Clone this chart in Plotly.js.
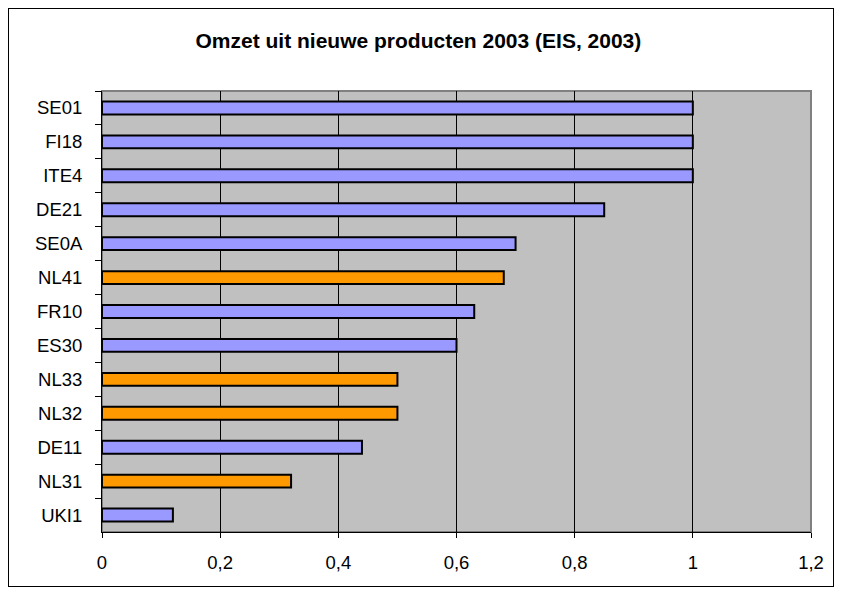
<!DOCTYPE html>
<html>
<head>
<meta charset="utf-8">
<script src="https://cdn.plot.ly/plotly-3.0.1.min.js"></script>
<style>
  html, body { margin: 0; padding: 0; background: #ffffff; }
  #wrap { position: relative; width: 841px; height: 595px; }
  #chart { width: 841px; height: 595px; }
  #frame { position: absolute; left: 8px; top: 8px; width: 824px; height: 577px;
           border: 1px solid #000; pointer-events: none; }
</style>
</head>
<body>
<div id="wrap">
  <div id="chart"></div>
  <div id="frame"></div>
</div>
<script>
const categories = ["SE01", "FI18", "ITE4", "DE21", "SE0A", "NL41", "FR10", "ES30", "NL33", "NL32", "DE11", "NL31", "UKI1"];
const values = [1, 1, 1, 0.85, 0.70, 0.68, 0.63, 0.60, 0.50, 0.50, 0.44, 0.32, 0.12];
const xTicks = [0, 0.2, 0.4, 0.6, 0.8, 1, 1.2];
const xTickLabels = ["0", "0,2", "0,4", "0,6", "0,8", "1", "1,2"];
const titleText = "Omzet uit nieuwe producten 2003 (EIS, 2003)";

const colors = categories.map(c => c.startsWith("NL") ? "#ff9900" : "#9999ff");

const trace = {
  type: "bar",
  orientation: "h",
  y: categories,
  x: values,
  marker: { color: colors, line: { color: "#000000", width: 2 } },
  hoverinfo: "x+y"
};

const layout = {
  width: 841,
  height: 595,
  margin: { l: 101.5, r: 30, t: 91, b: 63, pad: 0 },
  paper_bgcolor: "#ffffff",
  plot_bgcolor: "#c0c0c0",
  separators: ",.",
  font: { family: "Liberation Sans, Arial, sans-serif", size: 18.5, color: "#000000" },
  title: {
    text: "<b>" + titleText + "</b>",
    font: { family: "Liberation Sans, Arial, sans-serif", size: 21, color: "#000000" },
    x: 0.4975, xanchor: "center",
    y: 1 - 41 / 595, yanchor: "middle"
  },
  showlegend: false,
  bargap: 0.62,
  xaxis: {
    range: [0, 1.2],
    tickvals: xTicks,
    ticktext: xTickLabels,
    showgrid: true,
    gridcolor: "#000000",
    gridwidth: 1,
    zeroline: false,
    showline: true,
    linecolor: "#000000",
    linewidth: 1,
    ticks: "outside",
    ticklen: 5,
    tickcolor: "#000000",
    ticklabelstandoff: 9,
    tickfont: { size: 18.5 }
  },
  yaxis: {
    type: "category",
    autorange: "reversed",
    showgrid: false,
    zeroline: false,
    showline: true,
    linecolor: "#000000",
    linewidth: 1,
    ticks: "outside",
    tickson: "boundaries",
    ticklen: 6,
    tickcolor: "#000000",
    ticklabelstandoff: 15,
    tickfont: { size: 18.5 }
  },
  shapes: [{
    type: "rect", xref: "paper", yref: "paper",
    x0: 0, x1: 1, y0: 0, y1: 1,
    line: { color: "#808080", width: 2 },
    layer: "below"
  }]
};

Plotly.newPlot("chart", [trace], layout, { displayModeBar: false, staticPlot: true });
</script>
</body>
</html>
